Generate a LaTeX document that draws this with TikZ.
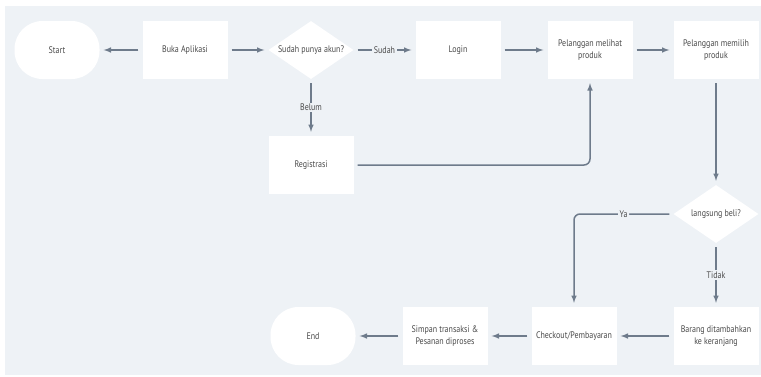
\documentclass[tikz,border=0pt]{standalone}
\usepackage{fontspec}
\setmainfont{PT Sans}[FakeStretch=0.84]
\usetikzlibrary{shapes.geometric,arrows,positioning}
\definecolor{bgcol}{HTML}{EEF2F6}
\definecolor{linecol}{HTML}{6E7B8B}
\definecolor{txtcol}{HTML}{4A4A4A}

\begin{document}
\begin{tikzpicture}[x=1pt,y=1pt,node distance=130pt]
\tikzstyle{box}=[rectangle,fill=white,minimum width=85pt,minimum height=58pt,
inner sep=2pt,align=center,text=txtcol,font=\fontsize{9.5}{12}\selectfont]
\tikzstyle{term}=[box,rounded corners=28pt]
\tikzstyle{tanya}=[diamond,aspect=1.5,fill=white,inner sep=0pt,
minimum width=85pt,minimum height=58pt,text=txtcol,font=\fontsize{9.5}{12}\selectfont]
\tikzstyle{panah}=[->,>=latex,color=linecol,line width=1.5pt,shorten >=4pt,shorten <=4pt]
\tikzstyle{ket}=[fill=bgcol,inner sep=1.5pt,text=txtcol,font=\fontsize{9.5}{12}\selectfont]

\useasboundingbox (0,0) rectangle (761,-376);
\fill[bgcol] (5,-6) rectangle (761,-375);

\node[term] at (57,-50) (start) {Start};
\node[box,right of =start,xshift=-2pt](buka) {Buka Aplikasi};
\node[tanya,right of =buka,xshift=-4pt](akun) {Sudah punya akun?};
\node[box,right of =akun,xshift=17pt](login) {Login};
\node[box,right of =login,xshift=2pt](lihat) {Pelanggan melihat\\produk};
\node[box,right of =lihat,xshift=-4pt](pilih) {Pelanggan memilih\\produk};
\node[box,below of =akun,yshift=15pt](reg) {Registrasi};
\node[tanya,below of =pilih,yshift=-34pt](beli) {langsung beli?};
\node[box,below of =beli,yshift=8pt](keranjang) {Barang ditambahkan\\ke keranjang};
\node[box,left of =keranjang,xshift=-12pt](bayar) {Checkout/Pembayaran};
\node[box,left of =bayar,xshift=1pt](simpan) {Simpan transaksi \&\\Pesanan diproses};
\node[term,left of =simpan,xshift=-2pt](selesai) {End};

\path[panah] (buka) edge (start) ;
\path[panah] (buka) edge (akun) ;
\path[panah] (akun) edge node[ket] {Sudah} (login) ;
\path[panah] (akun) edge node[ket] {Belum} (reg) ;
\path[panah] (login) edge (lihat) ;
\path[panah] (lihat) edge (pilih) ;
\draw[panah,rounded corners=6pt] (reg) -| (lihat) ;
\path[panah] (pilih) edge (beli) ;
\draw[panah,rounded corners=6pt] (beli) -| node[ket,pos=0.25] {Ya} (bayar) ;
\path[panah] (beli) edge node[ket] {Tidak} (keranjang) ;
\path[panah] (keranjang) edge (bayar) ;
\path[panah] (bayar) edge (simpan) ;
\path[panah] (simpan) edge (selesai) ;

\end{tikzpicture}
\end{document}
